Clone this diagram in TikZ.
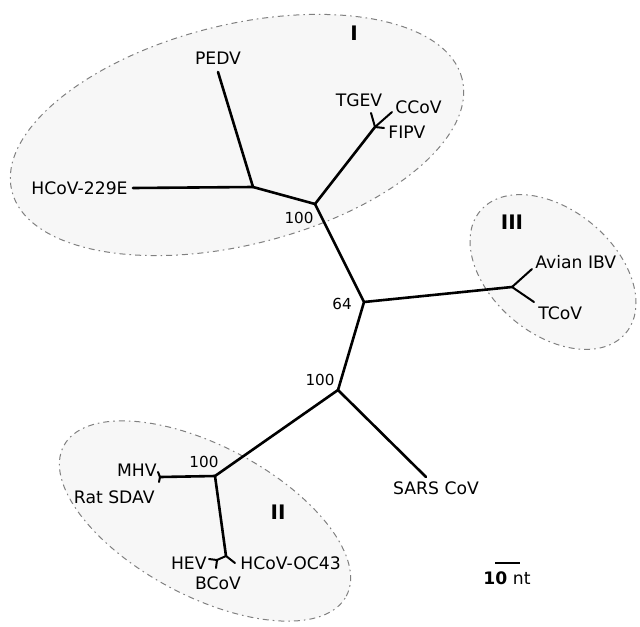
\documentclass[tikz,border=0pt]{standalone}
\usepackage{fontspec}
\setmainfont{DejaVu Sans}
\usetikzlibrary{positioning}

\begin{document}
\begin{tikzpicture}[
  x=0.5pt, y=-0.5pt,
  every node/.style={font=\fontsize{8.6}{10}\selectfont, inner sep=1pt},
  clade/.style={draw=black!50, fill=black!3, line width=0.5pt,
                dash pattern=on 3pt off 2pt on 0.8pt off 2pt},
  branch/.style={line width=1.3pt, line cap=round, line join=round},
  twig/.style={line width=1pt, line cap=round},
  boot/.style={font=\fontsize{7.6}{9}\selectfont},
  group/.style={font=\fontsize{10}{12}\selectfont\bfseries},
]
  \useasboundingbox (0,0) rectangle (640,626);

  % clade ellipses
  \draw[clade, rotate around={14:(237,135)}]  (237,135) ellipse [x radius=116pt, y radius=55pt];
  \draw[clade, rotate around={-40:(553,272)}] (553,272) ellipse [x radius=47.5pt, y radius=31pt];
  \draw[clade, rotate around={-28:(205,521)}] (205,521) ellipse [x radius=80pt, y radius=37.5pt];

  % inner nodes
  \coordinate (nI)   at (315,204);
  \coordinate (nA)   at (253,187);
  \coordinate (jTG)  at (375,127);
  \coordinate (n64)  at (364,302);
  \coordinate (jIII) at (512,287);
  \coordinate (nD)   at (338,390);
  \coordinate (nII)  at (215,476);
  \coordinate (jMH)  at (160,477);
  \coordinate (jHE)  at (226,556);
  \coordinate (jHB)  at (217,560);

  % tips
  \coordinate (tPEDV)  at (218,72);
  \coordinate (t229E)  at (133,188);
  \coordinate (tTGEV)  at (371,113);
  \coordinate (tCCoV)  at (392,112);
  \coordinate (tFIPV)  at (384,128);
  \coordinate (tIBV)   at (532,269);
  \coordinate (tTCoV)  at (534,302);
  \coordinate (tSARS)  at (426,477);
  \coordinate (tMHV)   at (158,472);
  \coordinate (tSDAV)  at (159,482);
  \coordinate (tOC43)  at (235,563);
  \coordinate (tHEV)   at (209,559);
  \coordinate (tBCoV)  at (216,568);

  % backbone
  \draw[branch] (nD) -- (n64) -- (nI);
  \draw[branch] (n64) -- (jIII);
  \draw[branch] (nD) -- (tSARS);
  \draw[branch] (nD) -- (nII);

  % group I
  \draw[branch] (nI) -- (nA);
  \draw[branch] (nA) -- (tPEDV);
  \draw[branch] (nA) -- (t229E);
  \draw[branch] (nI) -- (jTG);
  \draw[twig] (jTG) -- (tTGEV);
  \draw[twig] (jTG) -- (tCCoV);
  \draw[twig] (jTG) -- (tFIPV);

  % group III
  \draw[twig] (jIII) -- (tIBV);
  \draw[twig] (jIII) -- (tTCoV);

  % group II
  \draw[branch] (nII) -- (jMH);
  \draw[twig] (jMH) -- (tMHV);
  \draw[twig] (jMH) -- (tSDAV);
  \draw[branch] (nII) -- (jHE);
  \draw[twig] (jHE) -- (tOC43);
  \draw[twig] (jHE) -- (jHB);
  \draw[twig] (jHB) -- (tHEV);
  \draw[twig] (jHB) -- (tBCoV);

  % leaf labels
  \node[above=2.5pt of tPEDV]            (lPEDV) {PEDV};
  \node[left=1.5pt of t229E]             (l229E) {HCoV-229E};
  \node[anchor=south] at (359,109)       (lTGEV) {TGEV};
  \node[anchor=west]  at (393,107)       (lCCoV) {CCoV};
  \node[anchor=west]  at (386,132)       (lFIPV) {FIPV};
  \node[anchor=west]  at (533,262)       (lIBV)  {Avian IBV};
  \node[anchor=west]  at (536,313)       (lTCoV) {TCoV};
  \node               at (436,488)       (lSARS) {SARS CoV};
  \node[anchor=east]  at (159,470)       (lMHV)  {MHV};
  \node[anchor=east]  at (157,497)       (lSDAV) {Rat SDAV};
  \node[anchor=east]  at (209,563)       (lHEV)  {HEV};
  \node               at (218,583)       (lBCoV) {BCoV};
  \node[anchor=west]  at (238,563)       (lOC43) {HCoV-OC43};

  % bootstrap values
  \node[boot] at (299,218) (bI)  {100};
  \node[boot] at (342,304) (b64) {64};
  \node[boot] at (320,380) (bD)  {100};
  \node[boot] at (204,462) (bII) {100};

  % group numerals
  \node[group] at (354,33)  (gI)   {I};
  \node[group] at (512,222) (gIII) {III};
  \node[group] at (278,512) (gII)  {II};

  % scale bar
  \coordinate (sbL) at (495,563);
  \coordinate (sbR) at (520,563);
  \draw[line width=0.8pt] (sbL) -- (sbR);
  \node at (507,578) (lScale) {\textbf{10} nt};
\end{tikzpicture}
\end{document}
